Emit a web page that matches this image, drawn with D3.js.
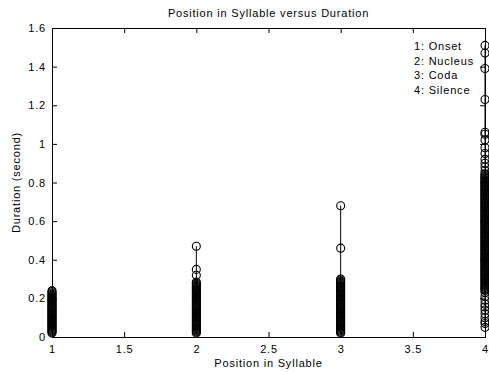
<!DOCTYPE html>
<html>
<head>
<meta charset="utf-8">
<script src="https://cdn.jsdelivr.net/npm/d3@7"></script>
<style>
  body { margin: 0; background: #fff; }
  svg { font-family: "Liberation Sans", Arial, sans-serif; }
  text { letter-spacing: 0.8px; }
  .tick text { font-size: 11px; fill: #000; }
</style>
</head>
<body>
<svg id="chart" width="489" height="372"></svg>
<script>
var positions = [1, 2, 3, 4];
var legendLabels = ['1: Onset', '2: Nucleus', '3: Coda', '4: Silence'];
var xTicks = [1, 1.5, 2, 2.5, 3, 3.5, 4];
var yTicks = [0, 0.2, 0.4, 0.6, 0.8, 1, 1.2, 1.4, 1.6];

// durations (second) per position
var onset = [0.24, 0.235, 0.228, 0.222, 0.217, 0.211, 0.206, 0.2, 0.196, 0.19, 0.186,
  0.181, 0.176, 0.17, 0.166, 0.161, 0.156, 0.151, 0.146, 0.14, 0.136, 0.131, 0.126,
  0.12, 0.116, 0.111, 0.106, 0.1, 0.096, 0.091, 0.086, 0.081, 0.076, 0.07, 0.066,
  0.061, 0.056, 0.051, 0.046, 0.041, 0.036, 0.031, 0.026, 0.021];
var nucleus = [0.47, 0.35, 0.32, 0.285, 0.279, 0.273, 0.268, 0.262, 0.257, 0.251,
  0.246, 0.24, 0.235, 0.229, 0.224, 0.218, 0.213, 0.207, 0.202, 0.196, 0.191, 0.185,
  0.18, 0.174, 0.169, 0.163, 0.158, 0.152, 0.147, 0.141, 0.136, 0.13, 0.125, 0.119,
  0.114, 0.108, 0.103, 0.097, 0.092, 0.086, 0.081, 0.075, 0.07, 0.064, 0.059, 0.053,
  0.048, 0.042, 0.037, 0.031, 0.026, 0.02];
var coda = [0.68, 0.46, 0.3, 0.295, 0.289, 0.284, 0.278, 0.273, 0.267, 0.262, 0.256,
  0.251, 0.245, 0.24, 0.234, 0.229, 0.223, 0.218, 0.212, 0.207, 0.201, 0.196, 0.19,
  0.185, 0.179, 0.174, 0.168, 0.163, 0.157, 0.152, 0.146, 0.141, 0.135, 0.13, 0.124,
  0.119, 0.113, 0.108, 0.102, 0.097, 0.091, 0.086, 0.08, 0.075, 0.069, 0.064, 0.058,
  0.053, 0.047, 0.042, 0.036, 0.031, 0.025, 0.02];
var silence = [1.51, 1.47, 1.39, 1.23, 1.06, 1.05, 1.02, 0.98, 0.95, 0.92, 0.9, 0.88,
  0.86, 0.845, 0.84, 0.834, 0.829, 0.823, 0.818, 0.812, 0.807, 0.801, 0.796, 0.79,
  0.785, 0.779, 0.774, 0.768, 0.763, 0.757, 0.752, 0.746, 0.741, 0.735, 0.73, 0.724,
  0.719, 0.713, 0.708, 0.702, 0.697, 0.691, 0.686, 0.68, 0.675, 0.669, 0.664, 0.658,
  0.653, 0.647, 0.642, 0.636, 0.631, 0.625, 0.62, 0.614, 0.609, 0.603, 0.598, 0.592,
  0.587, 0.581, 0.576, 0.57, 0.565, 0.559, 0.554, 0.548, 0.543, 0.537, 0.532, 0.526,
  0.521, 0.515, 0.51, 0.504, 0.499, 0.493, 0.488, 0.482, 0.477, 0.471, 0.466, 0.46,
  0.455, 0.449, 0.444, 0.438, 0.433, 0.427, 0.422, 0.416, 0.411, 0.405, 0.4, 0.394,
  0.389, 0.383, 0.378, 0.372, 0.367, 0.361, 0.356, 0.35, 0.345, 0.339, 0.334, 0.328,
  0.323, 0.317, 0.312, 0.306, 0.301, 0.295, 0.29, 0.284, 0.279, 0.273, 0.268, 0.262,
  0.257, 0.251, 0.246, 0.24, 0.23, 0.21, 0.19, 0.17, 0.155, 0.14, 0.12, 0.1, 0.08,
  0.07, 0.05];

var series = [onset, nucleus, coda, silence];

var margin = { top: 28, right: 4, bottom: 35, left: 52 };
var width = 489 - margin.left - margin.right;
var height = 372 - margin.top - margin.bottom;

var svg = d3.select('#chart');

var x = d3.scaleLinear().domain([1, 4]).range([0, width]);
var y = d3.scaleLinear().domain([0, 1.6]).range([height, 0]);

var g = svg.append('g')
  .attr('transform', 'translate(' + margin.left + ',' + margin.top + ')');

var fmt = function (d) { return d3.format('~g')(d); };

// axes, ticks pointing inward on all four sides
g.append('g')
  .attr('transform', 'translate(0,' + height + ')')
  .call(d3.axisBottom(x).tickValues(xTicks).tickFormat(fmt).tickSizeInner(-5).tickSizeOuter(0).tickPadding(8));
g.append('g')
  .call(d3.axisTop(x).tickValues(xTicks).tickFormat('').tickSizeInner(-5).tickSizeOuter(0));
g.append('g')
  .call(d3.axisLeft(y).tickValues(yTicks).tickFormat(fmt).tickSizeInner(-5).tickSizeOuter(0).tickPadding(6));
g.append('g')
  .attr('transform', 'translate(' + width + ',0)')
  .call(d3.axisRight(y).tickValues(yTicks).tickFormat('').tickSizeInner(-5).tickSizeOuter(0));

g.selectAll('.domain').attr('stroke', '#000');
g.selectAll('.tick line').attr('stroke', '#000');

g.append('rect')
  .attr('width', width)
  .attr('height', height)
  .attr('fill', 'none')
  .attr('stroke', '#000')
  .attr('shape-rendering', 'crispEdges');

// stems
var cols = g.selectAll('.col')
  .data(series)
  .enter().append('g')
  .attr('class', 'col');

cols.append('line')
  .attr('x1', function (d, i) { return x(positions[i]); })
  .attr('x2', function (d, i) { return x(positions[i]); })
  .attr('y1', function (d) { return y(d3.min(d)); })
  .attr('y2', function (d) { return y(d3.max(d)); })
  .attr('stroke', '#000')
  .attr('stroke-width', 1);

cols.each(function (d, i) {
  d3.select(this).selectAll('circle')
    .data(d)
    .enter().append('circle')
    .attr('cx', x(positions[i]))
    .attr('cy', function (v) { return y(v); })
    .attr('r', 4)
    .attr('fill', 'none')
    .attr('stroke', '#000')
    .attr('stroke-width', 1.1);
});

// legend text
g.selectAll('.legend')
  .data(legendLabels)
  .enter().append('text')
  .attr('class', 'legend')
  .attr('x', 362)
  .attr('y', function (d, i) { return 22 + i * 14.5; })
  .attr('font-size', 11)
  .text(function (d) { return d; });

// title and labels
svg.append('text')
  .attr('x', margin.left + width / 2)
  .attr('y', 17)
  .attr('text-anchor', 'middle')
  .attr('font-size', 11)
  .text('Position in Syllable versus Duration');

svg.append('text')
  .attr('x', margin.left + width / 2)
  .attr('y', 367)
  .attr('text-anchor', 'middle')
  .attr('font-size', 11)
  .text('Position in Syllable');

svg.append('text')
  .attr('transform', 'translate(20,' + (margin.top + height / 2) + ') rotate(-90)')
  .attr('text-anchor', 'middle')
  .attr('font-size', 11)
  .text('Duration (second)');
</script>
</body>
</html>
